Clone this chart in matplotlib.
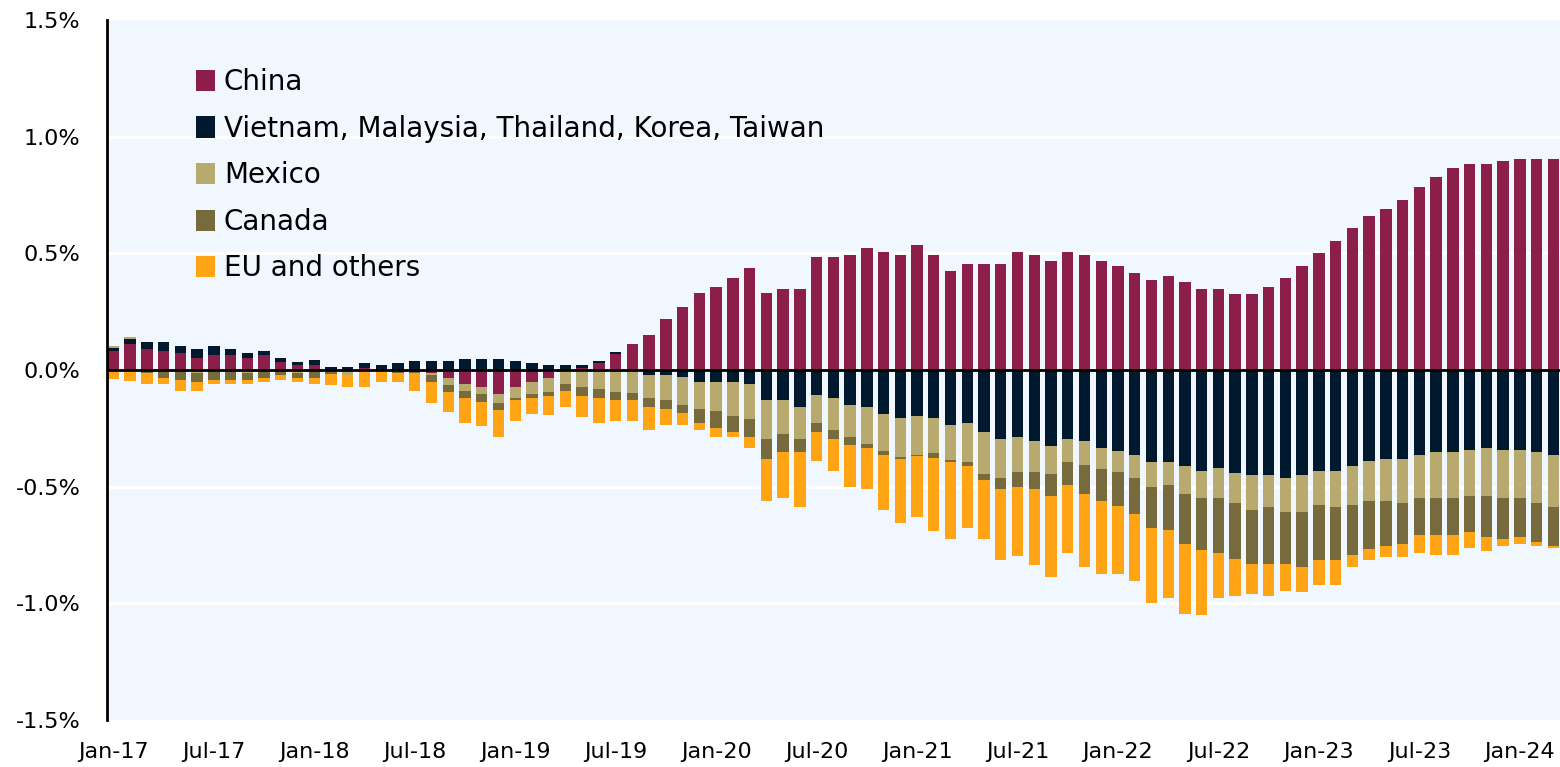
import numpy as np
import matplotlib
matplotlib.use("Agg")
import matplotlib.pyplot as plt

# Monthly contributions (percentage points), Jan-17 .. Mar-24
china = [0.083, 0.111, 0.091, 0.081, 0.073, 0.053, 0.063, 0.063, 0.053, 0.063,
         0.033, 0.023, 0.023, 0.003, 0.0, 0.010, 0.0, 0.0, 0.0, -0.013,
         -0.033, -0.061, -0.071, -0.103, -0.071, -0.051, -0.033, 0.0, 0.010, 0.030,
         0.069, 0.110, 0.151, 0.219, 0.269, 0.328, 0.356, 0.396, 0.436, 0.328,
         0.346, 0.346, 0.483, 0.483, 0.493, 0.523, 0.504, 0.494, 0.534, 0.494,
         0.426, 0.456, 0.456, 0.456, 0.504, 0.494, 0.466, 0.504, 0.494, 0.466,
         0.446, 0.416, 0.387, 0.405, 0.376, 0.346, 0.346, 0.326, 0.326, 0.356,
         0.395, 0.444, 0.503, 0.551, 0.610, 0.660, 0.689, 0.728, 0.786, 0.826,
         0.865, 0.885, 0.885, 0.895, 0.905, 0.905, 0.905]

asia = [0.010, 0.020, 0.029, 0.039, 0.030, 0.037, 0.040, 0.027, 0.019, 0.019,
        0.019, 0.010, 0.020, 0.010, 0.013, 0.020, 0.020, 0.030, 0.040, 0.040,
        0.040, 0.049, 0.049, 0.049, 0.040, 0.030, 0.020, 0.020, 0.010, 0.010,
        0.010, 0.0, -0.020, -0.020, -0.030, -0.050, -0.050, -0.050, -0.059, -0.128,
        -0.128, -0.158, -0.108, -0.118, -0.148, -0.158, -0.188, -0.207, -0.197, -0.207,
        -0.237, -0.227, -0.266, -0.296, -0.286, -0.306, -0.326, -0.296, -0.306, -0.336,
        -0.346, -0.364, -0.394, -0.393, -0.412, -0.432, -0.422, -0.442, -0.452, -0.452,
        -0.461, -0.452, -0.432, -0.432, -0.412, -0.392, -0.383, -0.383, -0.363, -0.353,
        -0.353, -0.343, -0.333, -0.343, -0.343, -0.353, -0.363]

mexico = [0.010, 0.009, 0.0, 0.0, 0.0, -0.011, 0.0, 0.0, -0.013, 0.0,
          0.0, -0.013, 0.0, -0.005, -0.021, -0.004, 0.0, 0.0, 0.0, -0.010,
          -0.033, -0.031, -0.031, -0.039, -0.050, -0.051, -0.060, -0.061, -0.071, -0.083,
          -0.093, -0.100, -0.100, -0.110, -0.118, -0.118, -0.127, -0.147, -0.150, -0.168,
          -0.148, -0.138, -0.118, -0.138, -0.138, -0.157, -0.158, -0.167, -0.169, -0.149,
          -0.147, -0.167, -0.179, -0.167, -0.149, -0.129, -0.119, -0.099, -0.099, -0.089,
          -0.089, -0.099, -0.107, -0.098, -0.118, -0.117, -0.127, -0.128, -0.147, -0.137,
          -0.147, -0.157, -0.147, -0.157, -0.167, -0.168, -0.177, -0.187, -0.187, -0.197,
          -0.197, -0.198, -0.208, -0.207, -0.207, -0.217, -0.226]

canada = [0.0, 0.0, -0.011, -0.033, -0.043, -0.039, -0.043, -0.043, -0.030, -0.033,
          -0.023, -0.020, -0.033, -0.010, 0.0, 0.0, 0.0, -0.013, -0.013, -0.029,
          -0.027, -0.029, -0.037, -0.029, -0.009, -0.019, -0.019, -0.031, -0.040, -0.039,
          -0.037, -0.027, -0.038, -0.037, -0.038, -0.057, -0.070, -0.068, -0.077, -0.087,
          -0.077, -0.057, -0.038, -0.038, -0.037, -0.018, -0.018, -0.007, -0.003, -0.019,
          -0.009, -0.019, -0.027, -0.049, -0.067, -0.077, -0.096, -0.097, -0.127, -0.136,
          -0.146, -0.156, -0.175, -0.195, -0.214, -0.224, -0.235, -0.242, -0.234, -0.244,
          -0.224, -0.234, -0.234, -0.224, -0.214, -0.205, -0.195, -0.175, -0.157, -0.157,
          -0.157, -0.155, -0.175, -0.175, -0.167, -0.165, -0.165]

eu_others = [-0.040, -0.049, -0.050, -0.029, -0.049, -0.041, -0.019, -0.019, -0.019, -0.019,
             -0.020, -0.019, -0.029, -0.051, -0.050, -0.070, -0.053, -0.039, -0.079, -0.089,
             -0.087, -0.107, -0.099, -0.117, -0.089, -0.069, -0.079, -0.067, -0.089, -0.107,
             -0.089, -0.090, -0.097, -0.068, -0.048, -0.030, -0.038, -0.020, -0.048, -0.177,
             -0.197, -0.235, -0.128, -0.137, -0.177, -0.177, -0.235, -0.276, -0.259, -0.313,
             -0.333, -0.264, -0.254, -0.304, -0.294, -0.323, -0.344, -0.294, -0.313, -0.314,
             -0.294, -0.284, -0.324, -0.292, -0.303, -0.275, -0.195, -0.157, -0.127, -0.137,
             -0.117, -0.107, -0.108, -0.108, -0.050, -0.048, -0.048, -0.058, -0.078, -0.087,
             -0.087, -0.068, -0.058, -0.030, -0.028, -0.020, -0.010]

series_names = ["China", "Vietnam, Malaysia, Thailand, Korea, Taiwan",
                "Mexico", "Canada", "EU and others"]
colors = ["#8B1F4A", "#00192F", "#B8A96F", "#776A3C", "#FFA414"]

tick_labels = ["Jan-17", "Jul-17", "Jan-18", "Jul-18", "Jan-19", "Jul-19", "Jan-20",
               "Jul-20", "Jan-21", "Jul-21", "Jan-22", "Jul-22", "Jan-23", "Jul-23",
               "Jan-24"]

plt.rcParams["font.family"] = "DejaVu Sans"

fig = plt.figure(figsize=(15.6, 7.67), dpi=100)
ax = fig.add_axes([107 / 1560, 1 - 720 / 767, 1 - 107 / 1560, 700 / 767])
ax.set_facecolor("#F0F7FF")

x = np.arange(len(china))
pos_bottom = np.zeros(len(x))
neg_bottom = np.zeros(len(x))
handles = []
for vals, name, col in zip([china, asia, mexico, canada, eu_others], series_names, colors):
    v = np.array(vals)
    bottom = np.where(v >= 0, pos_bottom, neg_bottom)
    h = ax.bar(x, v, width=0.68, bottom=bottom, color=col, label=name,
               edgecolor="none", zorder=3)
    handles.append(h)
    pos_bottom = pos_bottom + np.where(v >= 0, v, 0)
    neg_bottom = neg_bottom + np.where(v < 0, v, 0)

# gridlines and zero line
for yv in [-1.0, -0.5, 0.5, 1.0]:
    ax.axhline(yv, color="white", linewidth=2.5, zorder=1)
ax.axhline(0, color="black", linewidth=2, zorder=4)

ax.set_xlim(-0.38, 86.4)
ax.set_ylim(-1.5, 1.5)
ax.set_yticks([-1.5, -1.0, -0.5, 0.0, 0.5, 1.0, 1.5])
ax.set_yticklabels([f"{t:.1f}%" for t in [-1.5, -1.0, -0.5, 0.0, 0.5, 1.0, 1.5]])
ax.set_xticks(np.arange(0, 85, 6))
ax.set_xticklabels(tick_labels)
ax.tick_params(axis="y", length=0, pad=19, labelsize=16)
ax.tick_params(axis="x", length=0, pad=16, labelsize=16)

for s in ["top", "right", "bottom"]:
    ax.spines[s].set_visible(False)
ax.spines["left"].set_linewidth(2)
ax.spines["left"].set_color("black")
ax.spines["left"].set_zorder(5)

ax.legend(handles=handles, loc="upper left", bbox_to_anchor=(196 / 1560, 1 - 68 / 767),
          bbox_transform=fig.transFigure, frameon=False, fontsize=20,
          handlelength=0.7, handleheight=0.8, handletextpad=0.3,
          labelspacing=0.67, borderaxespad=0, borderpad=0)

fig.savefig("out.png", dpi=100)
